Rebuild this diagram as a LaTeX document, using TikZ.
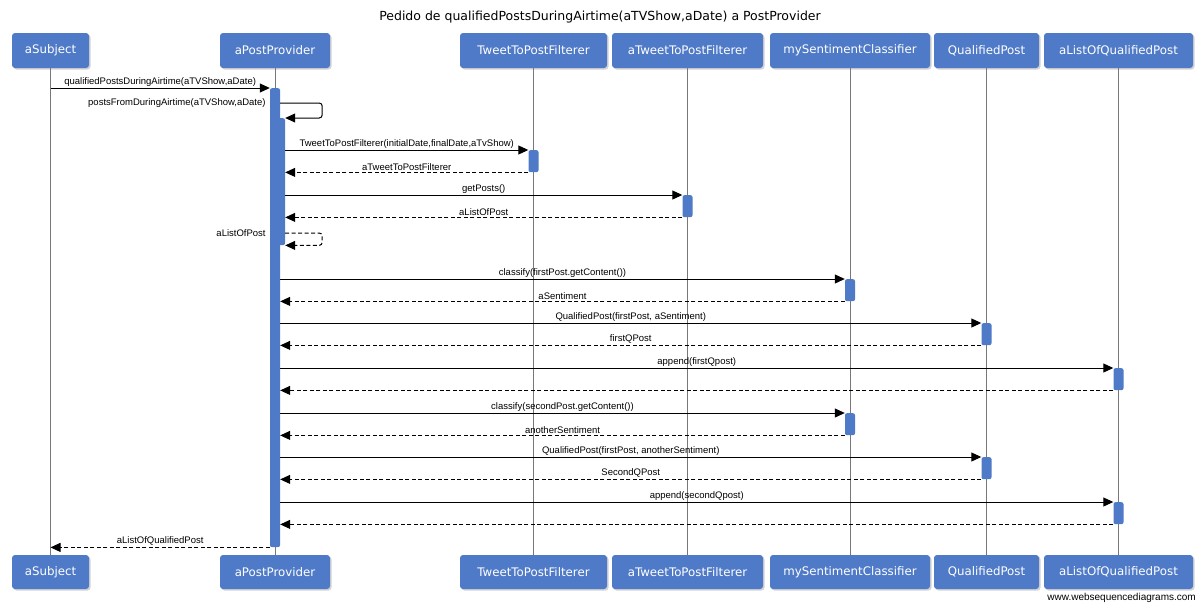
\documentclass[tikz,border=0pt]{standalone}
\usepackage{fontspec}
\setmainfont{Liberation Sans}
\newfontfamily\boxfont{DejaVu Sans}
\usepackage{tikz}
\usetikzlibrary{arrows.meta,shadows}
\definecolor{wsdblue}{RGB}{79,122,199}
\definecolor{wsdline}{RGB}{120,120,120}

\begin{document}
\begin{tikzpicture}[x=1pt, y=-1pt,
  actor/.style={fill=wsdblue, rounded corners=3pt, text=white, inner sep=0pt,
    font=\boxfont\fontsize{11.8}{14}\selectfont,
    drop shadow={shadow xshift=1.5pt, shadow yshift=-1.5pt, opacity=0.35}},
  bar/.style={fill=wsdblue, rounded corners=2pt, minimum width=10pt, inner sep=0pt, anchor=north},
  life/.style={wsdline, line width=0.8pt},
  call/.style={line width=1pt, -{Triangle[length=10pt,width=9pt]}},
  ret/.style={call, dash pattern=on 4pt off 2.5pt},
  lbl/.style={above, inner sep=1.5pt, font=\fontsize{9.5}{11}\selectfont}]

\useasboundingbox (0,0) rectangle (1200,605);

% =================== title ===================
\node[font=\boxfont\fontsize{12.5}{14}\selectfont] (title) at (600,17)
  {Pedido de qualifiedPostsDuringAirtime(aTVShow,aDate) a PostProvider};

% =================== participants and lifelines ===================
\foreach \n/\x/\w/\txt in {S/50.5/77/aSubject, P/275/110/aPostProvider,
    T/533.5/147/TweetToPostFilterer, TT/687.5/151/aTweetToPostFilterer,
    C/850/160/mySentimentClassifier, Q/986.5/105/QualifiedPost,
    L/1118.5/149/aListOfQualifiedPost}{
  \node[actor, minimum width=\w, minimum height=35] (h\n) at (\x,50.5) {\txt};
  \node[actor, minimum width=\w, minimum height=34] (f\n) at (\x,572) {\txt};
  \draw[life] (h\n) -- (f\n);
}

% =================== activation bars ===================
\node[bar, minimum height=459] (bP) at (hP |- 0,88) {};
\node[bar, minimum height=127, xshift=5pt] (bPin) at (hP |- 0,118) {};
\node[bar, minimum height=22] (bT)  at (hT |- 0,150) {};
\node[bar, minimum height=22] (bTT) at (hTT |- 0,195) {};
\foreach \b/\n/\y in {C1/C/279, Q1/Q/323, L1/L/368, C2/C/413, Q2/Q/457, L2/L/502}{
  \node[bar, minimum height=22] (b\b) at (h\n |- 0,\y) {};
}

% =================== messages ===================
\draw[call] (hS |- bP.north) -- (bP.north west)
  node[lbl, midway] {qualifiedPostsDuringAirtime(aTVShow,aDate)};

% self call into the nested bar
\draw[call, rounded corners=3pt] (bP.east |- 0,103) -- ++(42,0) |- (bPin.north east);
\node[left, inner sep=4pt, font=\fontsize{9.5}{11}\selectfont] (lSelf) at (bP.west |- 0,103)
  {postsFromDuringAirtime(aTVShow,aDate)};

\draw[call] (bPin.east |- bT.north) -- (bT.north west)
  node[lbl, midway] {TweetToPostFilterer(initialDate,finalDate,aTvShow)};
\draw[ret] (bT.south west) -- (bPin.east |- bT.south)
  node[lbl, midway] {aTweetToPostFilterer};
\draw[call] (bPin.east |- bTT.north) -- (bTT.north west)
  node[lbl, midway] {getPosts()};
\draw[ret] (bTT.south west) -- (bPin.east |- bTT.south)
  node[lbl, midway] {aListOfPost};

% self return out of the nested bar
\draw[ret, rounded corners=3pt] (bPin.east |- 0,233) -- ++(37,0) |- (bPin.south east);
\node[left, inner sep=4pt, font=\fontsize{9.5}{11}\selectfont] (lBack) at (bP.west |- 0,233)
  {aListOfPost};

% classify / qualify / append, twice
\foreach \b/\callTxt/\retTxt in {C1/{classify(firstPost.getContent())}/aSentiment,
    Q1/{QualifiedPost(firstPost, aSentiment)}/firstQPost,
    L1/{append(firstQpost)}/{},
    C2/{classify(secondPost.getContent())}/anotherSentiment,
    Q2/{QualifiedPost(firstPost, anotherSentiment)}/SecondQPost,
    L2/{append(secondQpost)}/{}}{
  \draw[call] (bP.east |- b\b.north) -- (b\b.north west) node[lbl, midway] {\callTxt};
  \draw[ret] (b\b.south west) -- (bP.east |- b\b.south) node[lbl, midway] {\retTxt};
}

\draw[ret] (bP.south west) -- (hS |- bP.south)
  node[lbl, midway] {aListOfQualifiedPost};

% =================== watermark ===================
\node[anchor=east, inner sep=0pt, font=\fontsize{10}{12}\selectfont] (wsd) at (1196,598)
  {www.websequencediagrams.com};

\end{tikzpicture}
\end{document}
